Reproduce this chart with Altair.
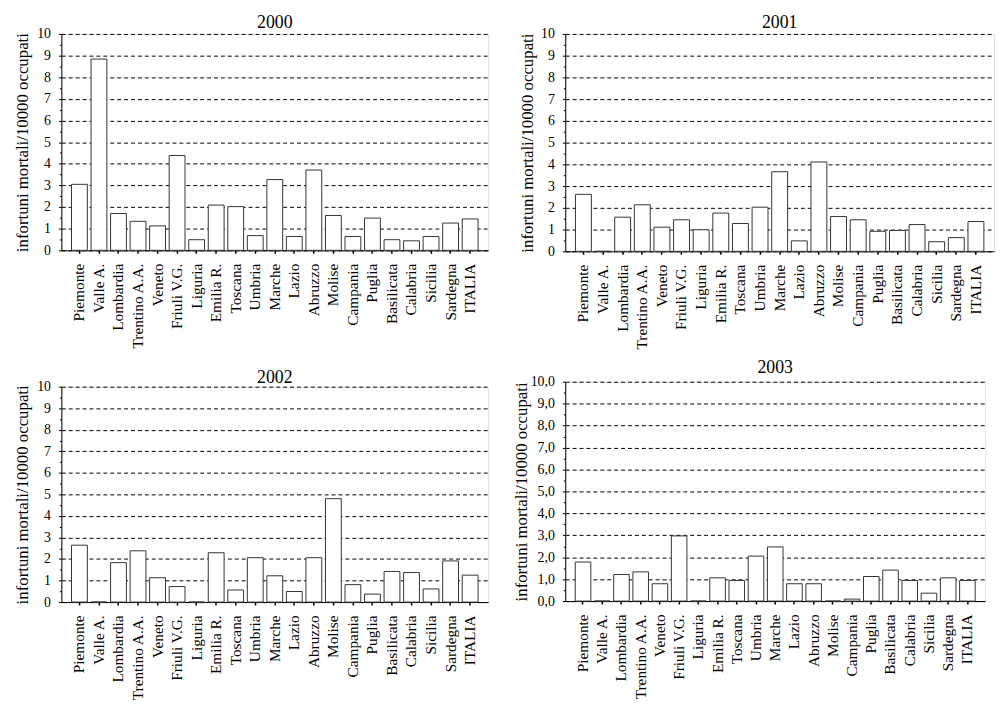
import altair as alt
import pandas as pd

REGIONI = ["Piemonte", "Valle A.", "Lombardia", "Trentino A.A.", "Veneto", "Friuli V.G.",
           "Liguria", "Emilia R.", "Toscana", "Umbria", "Marche", "Lazio", "Abruzzo",
           "Molise", "Campania", "Puglia", "Basilicata", "Calabria", "Sicilia",
           "Sardegna", "ITALIA"]

V2000 = [3.05, 8.84, 1.70, 1.34, 1.13, 4.38, 0.49, 2.09, 2.02, 0.68, 3.27, 0.64, 3.71,
         1.61, 0.64, 1.49, 0.49, 0.44, 0.64, 1.26, 1.45]
V2001 = [2.62, 0.00, 1.57, 2.14, 1.11, 1.45, 0.99, 1.76, 1.28, 2.03, 3.66, 0.48, 4.11,
         1.60, 1.45, 0.92, 0.96, 1.23, 0.44, 0.63, 1.37]
V2002 = [2.64, 0.00, 1.83, 2.38, 1.13, 0.72, 0.00, 2.29, 0.56, 2.06, 1.22, 0.49, 2.06,
         4.80, 0.81, 0.37, 1.42, 1.37, 0.61, 1.91, 1.25]
V2003 = [1.78, 0.00, 1.21, 1.33, 0.79, 2.97, 0.00, 1.06, 0.94, 2.05, 2.47, 0.79, 0.79,
         0.00, 0.09, 1.12, 1.41, 0.94, 0.36, 1.06, 0.94]

Y_TICKS = [0, 0.5, 1, 1.5, 2, 2.5, 3, 3.5, 4, 4.5, 5, 5.5, 6, 6.5, 7, 7.5, 8, 8.5, 9, 9.5, 10]
Y_TITLE = "infortuni mortali/10000 occupati"
FONT = "Liberation Serif"


def panel(year, values, width, height, extent, title_pad, title_offset, decimal=False):
    df = pd.DataFrame({"regione": REGIONI, "valore": values})
    if decimal:
        lab = "datum.value % 1 ? '' : replace(format(datum.value, '.1f'), '.', ',')"
    else:
        lab = "datum.value % 1 ? '' : format(datum.value, 'd')"
    y_axis = alt.Axis(
        values=Y_TICKS, labelExpr=lab, title=Y_TITLE, titleFont=FONT, titleFontSize=17,
        titleFontWeight="normal", titleColor="black", titlePadding=title_pad,
        labelFont=FONT, labelFontSize=14, labelColor="black", labelPadding=8,
        minExtent=extent, maxExtent=extent,
        domainColor="black", tickColor="black",
        tickSize={"condition": {"test": "datum.value % 1 !== 0", "value": 2}, "value": 3},
        grid=True, gridColor="black", gridDash=[4, 3], gridWidth=1,
        gridOpacity={"condition": {"test": "datum.value % 1 !== 0", "value": 0}, "value": 1},
    )
    x_axis = alt.Axis(
        title=None, labelAngle=270, labelFont=FONT, labelFontSize=15.5, labelColor="black",
        labelPadding=10, tickSize=3, tickWidth=1.5, tickColor="black", domainColor="black",
        grid=False, labelOverlap=False,
    )
    return alt.Chart(df).mark_bar(fill="white", stroke="#333333", strokeWidth=1).encode(
        x=alt.X("regione:N", sort=REGIONI, axis=x_axis,
                scale=alt.Scale(paddingInner=0.19, paddingOuter=0.52)),
        y=alt.Y("valore:Q", axis=y_axis, scale=alt.Scale(domain=[0, 10], nice=False)),
    ).properties(
        width=width, height=height,
        title=alt.TitleParams(str(year), font=FONT, fontSize=18, fontWeight="normal",
                              color="black", offset=title_offset),
    )


a = panel(2000, V2000, 432, 219, 25, 5, -5)
b = panel(2001, V2001, 434, 220, 25, 4, -5)
c = panel(2002, V2002, 432, 218, 25, 5, -7)
d = panel(2003, V2003, 425, 222, 34, 1, -2, decimal=True)

col1 = alt.vconcat(a, c, spacing=18)
col2 = alt.vconcat(b, d, spacing=7)
chart = alt.hconcat(col1, col2, spacing=23).properties(
    padding={"left": 5, "top": 1, "right": 5, "bottom": 5}
).configure_view(
    stroke="#333333", strokeWidth=1
).configure(background="white")

chart.save("out.html", embed_options={"renderer": "svg", "actions": False})
